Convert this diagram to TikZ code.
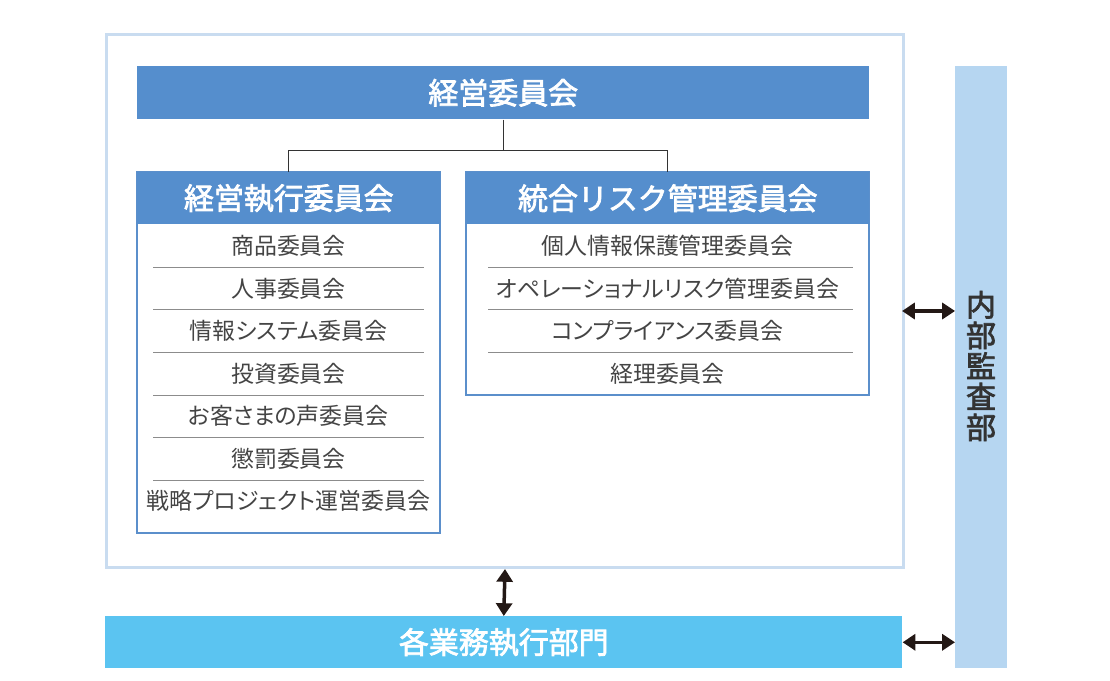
\documentclass[tikz,border=0pt]{standalone}
\usepackage{fontspec}
\newfontfamily\jp[RawFeature={+palt}]{Noto Sans CJK JP}
\newfontfamily\jph[FakeBold=2.5]{Noto Sans CJK JP}
\usepackage{tikz}
\usetikzlibrary{positioning,arrows.meta}

\definecolor{hdblue}{HTML}{558ECD}
\definecolor{frameblue}{HTML}{C9DCF0}
\definecolor{boxblue}{HTML}{5B8FCB}
\definecolor{deptblue}{HTML}{5BC4F1}
\definecolor{auditblue}{HTML}{B6D6F1}
\definecolor{txtgray}{HTML}{333333}
\definecolor{itemgray}{HTML}{444444}
\definecolor{linegray}{HTML}{8C8C8C}
\definecolor{arrowblk}{HTML}{231815}

\newlength\px
\setlength\px{0.025cm}

\begin{document}
\begin{tikzpicture}[x=0.025cm, y=-0.025cm,
    hdr/.style={rectangle, fill=hdblue, text=white, inner sep=0pt, anchor=north west,
      font=\jph\fontsize{21.3}{24}\selectfont},
    item/.style={text=itemgray, inner sep=0pt, font=\jp\fontsize{16.3}{19}\selectfont},
    sepline/.style={draw=linegray, line width=1\px},
    boxline/.style={draw=boxblue, line width=1.5\px},
    link/.style={draw=txtgray, line width=1.3\px},
    dblarrow/.style={{Triangle[width=0.4cm,length=0.32cm]}-{Triangle[width=0.4cm,length=0.32cm]},
      draw=arrowblk, line width=3.5\px}]

    \useasboundingbox (0,0) rectangle (1110,681);

    % outer frame
    \node[draw=frameblue, line width=3\px, minimum width=797\px, minimum height=533\px,
      inner sep=0pt, anchor=north west] (frame) at (105,33) {};

    % boxes under the headers
    \draw[boxline] (137,172) rectangle (440,533);
    \draw[boxline] (466,172) rectangle (869,395);

    \node[hdr, minimum width=732\px, minimum height=53\px] (board) at (137,66) {経営委員会};
    \node[hdr, minimum width=303\px, minimum height=52\px] (exec) at (137,172) {経営執行委員会};
    \node[hdr, minimum width=403\px, minimum height=52\px] (risk) at (466,172) {統合リスク管理委員会};

    \draw[link] (board.south) -- ++(0,31) -| (exec.north);
    \draw[link] (board.south) ++(0,31) -| (risk.north);

    % committees
    \foreach \t [count=\i] in {商品委員会, 人事委員会, 情報システム委員会, 投資委員会,
        お客さまの声委員会, 懲罰委員会, 戦略プロジェクト運営委員会}
      \node[item] (ex\i) at (288.5, {203.5+42.5*\i}) {\t};
    \foreach \i in {1,...,6}
      \draw[sepline] (153,{225+42.5*\i}) -- (424,{225+42.5*\i});

    \foreach \t [count=\i] in {個人情報保護管理委員会, オペレーショナルリスク管理委員会,
        コンプライアンス委員会, 経理委員会}
      \node[item] (rk\i) at (667.5, {203.5+42.5*\i}) {\t};
    \foreach \i in {1,...,3}
      \draw[sepline] (488,{225+42.5*\i}) -- (853,{225+42.5*\i});

    % departments and audit
    \node[hdr, fill=deptblue, minimum width=797\px, minimum height=52\px] (depts) at (105,616) {各業務執行部門};
    \node[fill=auditblue, minimum width=52\px, minimum height=602\px, inner sep=0pt,
      anchor=north west] (audit) at (955,66) {};
    \node[text=txtgray, align=center, inner sep=0pt, font=\jph\fontsize{21.3}{21.8}\selectfont]
      (auditlbl) at (981,366) {内\\部\\監\\査\\部};

    \coordinate (hook) at (902,311);
    \draw[dblarrow] (frame.south) -- (depts.north);
    \draw[dblarrow] (hook) -- (hook -| audit.west);
    \draw[dblarrow] (depts.east) -- (depts.east -| audit.west);
\end{tikzpicture}
\end{document}
